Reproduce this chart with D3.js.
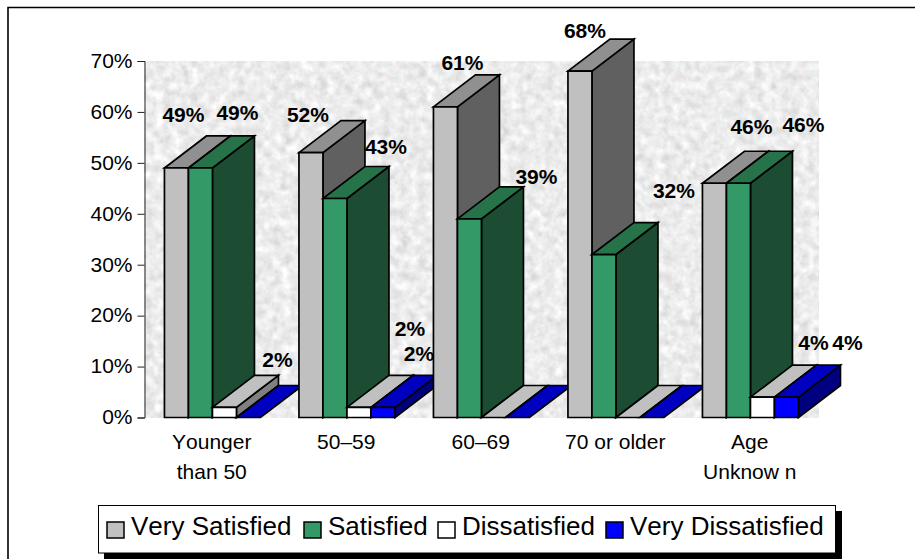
<!DOCTYPE html>
<html><head><meta charset="utf-8">
<style>html,body{margin:0;padding:0;background:#fff}svg{display:block}text{font-family:"Liberation Sans",Arial,sans-serif;fill:#000;font-kerning:none}</style>
<script src="https://cdnjs.cloudflare.com/ajax/libs/d3/7.9.0/d3.min.js"></script>
</head><body><div id="c"></div>
<script>
const categories = [["Younger","than 50"],["50–59"],["60–69"],["70 or older"],["Age","Unknow n"]];
const seriesNames = ["Very Satisfied","Satisfied","Dissatisfied","Very Dissatisfied"];
const verySatisfied = [49,52,61,68,46];
const satisfied = [49,43,39,32,46];
const dissatisfied = [2,2,0,0,4];
const veryDissatisfied = [0,2,0,0,4];
const yTicks = [0,10,20,30,40,50,60,70];

const faces = [
 {front:"#c0c0c0",top:"#909090",side:"#606060"},
 {front:"#339966",top:"#267349",side:"#1c4d33"},
 {front:"#ffffff",top:"#c0c0c0",side:"#808080"},
 {front:"#0000ff",top:"#0000c0",side:"#000080"}];
// label nudges from each bar's top centre [series][group]
const labelNudge = [
 [[7,-53],[-3,-38],[17,-44],[5,-41],[37,-57]],
 [[37,-55],[51,-52],[67,-42],[70,-64],[65,-59]],
 [[53,-48],[51,-79],[0,0],[0,0],[51,-54]],
 [[0,0],[36,-54],[0,0],[0,0],[61,-54]]];
const legendX = [107,304,438,606];

const W=915,H=559,dx=42,dy=-32,barW=24;
const svg=d3.select("#c").append("svg").attr("width",W).attr("height",H);
const defs=svg.append("defs");
const f=defs.append("filter").attr("id","tex").attr("x",0).attr("y",0).attr("width","100%").attr("height","100%").attr("color-interpolation-filters","sRGB");
f.append("feTurbulence").attr("type","fractalNoise").attr("baseFrequency","0.11").attr("numOctaves",4).attr("seed",7);
f.append("feColorMatrix").attr("values","0.17 0.14 0 0 0.77  0.14 0.17 0 0 0.77  0.155 0.155 0 0 0.77  0 0 0 0 1");

svg.append("path").attr("d",`M8,${H}V7.5H${W}`).attr("fill","none").attr("stroke","#000").attr("stroke-width",1.6);

const y=d3.scaleLinear().domain([0,70]).range([417.5,61]);
const x0=d3.scaleBand().domain(d3.range(categories.length)).range([144,816.5]);
const x1=d3.scaleBand().domain(d3.range(4)).range([0,barW*4]);
const groupOffset=g=>x0(g)+(x0.bandwidth()-barW*4)/2+1.2;

svg.append("rect").attr("x",144).attr("y",61).attr("width",675).attr("height",356.5).attr("filter","url(#tex)");

const ax=svg.append("g").attr("transform","translate(144.5,0)").call(d3.axisLeft(y).tickValues(yTicks).tickSize(7).tickPadding(5).tickFormat(d=>d+"%"));
ax.selectAll("text").style("font-size","21px").attr("fill","#000").attr("dy","0.3em");
ax.selectAll("line,path").attr("stroke","#222");

const values=[verySatisfied,satisfied,dissatisfied,veryDissatisfied];
const st={stroke:"#000","stroke-width":1.7,"stroke-linejoin":"miter"};
const bars=svg.append("g");
categories.forEach((c,g)=>{
  const off=groupOffset(g);
  values.forEach((vals,s)=>{
    const v=vals[g],l=off+x1(s),r=l+barW,t=y(v),b=y(0);
    const poly=(pts,fill)=>{const p=bars.append("polygon").attr("points",pts.join(" ")).attr("fill",fill);Object.entries(st).forEach(([k,a])=>p.attr(k,a));};
    if(v>0) poly([[r,b],[r+dx,b+dy],[r+dx,t+dy],[r,t]],faces[s].side);
    poly([[l,t],[l+dx,t+dy],[r+dx,t+dy],[r,t]],faces[s].top);
    if(v>0) poly([[l,b],[r,b],[r,t],[l,t]],faces[s].front);
  });
});
values.forEach((vals,s)=>vals.forEach((v,g)=>{
  if(!v) return;
  const off=groupOffset(g)+x1(s)+barW/2;
  const n=labelNudge[s][g];
  svg.append("text").attr("x",off+n[0]).attr("y",y(v)+n[1]).attr("text-anchor","middle").attr("dy","0.35em")
    .style("font-size","21px").style("font-weight","bold").text(v+"%");
}));
categories.forEach((c,g)=>{
  c.forEach((line,i)=>svg.append("text").attr("x",x0(g)+x0.bandwidth()/2+0.5).attr("y",449+i*30).attr("text-anchor","middle").style("font-size","21px").text(line));
});
// legend
svg.append("rect").attr("x",104).attr("y",511).attr("width",738).attr("height",48).attr("fill","#000");
svg.append("rect").attr("x",98.5).attr("y",505.5).attr("width",737).attr("height",47.5).attr("fill","#fff").attr("stroke","#000").attr("stroke-width",1);
seriesNames.forEach((n,i)=>{
  svg.append("rect").attr("x",legendX[i]).attr("y",522).attr("width",17).attr("height",16).attr("fill",faces[i].front).attr("stroke","#000").attr("stroke-width",1.5);
  svg.append("text").attr("x",legendX[i]+24).attr("y",535).style("font-size","26px").text(n);
});
</script></body></html>
